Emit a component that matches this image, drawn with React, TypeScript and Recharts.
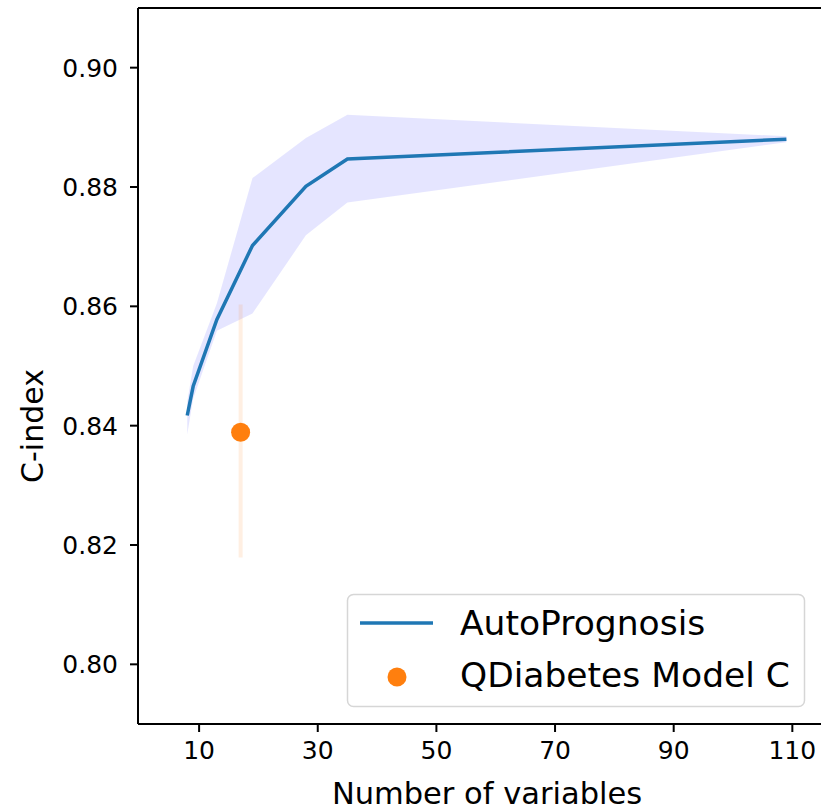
import React from 'react';
import {
  ComposedChart, Area, Line, Scatter, ErrorBar, XAxis, YAxis, ReferenceLine,
} from 'recharts';

// AutoPrognosis curve: number of variables vs C-index (mean with band)
const nVars = [8, 9, 13, 19, 28, 35, 109];
const meanC = [0.8417, 0.8466, 0.8578, 0.8702, 0.8801, 0.8847, 0.888];
const lowC = [0.8385, 0.8445, 0.8559, 0.8588, 0.8719, 0.8774, 0.8875];
const highC = [0.844, 0.85, 0.8605, 0.8815, 0.8882, 0.8921, 0.8885];

// QDiabetes reference point with its interval
const qdVars = [17];
const qdC = [0.8389];
const qdErr = [[0.021, 0.0214]];

const xTicks = [10, 30, 50, 70, 90, 110];
const yTicks = [0.8, 0.82, 0.84, 0.86, 0.88, 0.9];

const curve = nVars.map((x, i) => ({ x, mean: meanC[i], lo: lowC[i], hi: highC[i] }));
const qd = qdVars.map((x, i) => ({ x, y: qdC[i], err: qdErr[i] }));

const FONT = '"DejaVu Sans", sans-serif';
const BLUE = '#1f77b4';
const ORANGE = '#ff7f0e';

function LegendBox() {
  return (
    <svg width={460} height={116} style={{ position: 'absolute', left: 346, top: 593 }}>
      <rect x={1.5} y={1.5} width={457} height={112} rx={6} fill="#fff" fillOpacity={0.8} stroke="#d6d6d6" strokeWidth={1.5} />
      <line x1={14} x2={87} y1={30} y2={30} stroke={BLUE} strokeWidth={3.5} />
      <text x={114} y={42} fontSize={34.5} fontFamily={FONT} fill="#000">AutoPrognosis</text>
      <circle cx={51} cy={84} r={9.5} fill={ORANGE} />
      <text x={114} y={94} fontSize={34.5} fontFamily={FONT} fill="#000">QDiabetes Model C</text>
    </svg>
  );
}

export default function App() {
  return (
    <div style={{ position: 'fixed', left: 0, top: 0, width: 821, height: 810, overflow: 'hidden', background: '#fff' }}>
      <ComposedChart width={830} height={810} data={curve} margin={{ top: 8, right: 8, bottom: 0, left: 0 }}>
        <XAxis
          type="number"
          dataKey="x"
          domain={[-0.3, 115]}
          ticks={xTicks}
          allowDataOverflow
          height={86}
          stroke="#000"
          strokeWidth={2}
          tickSize={8}
          tickMargin={9}
          tick={{ fontSize: 25, fontFamily: FONT, fill: '#000' }}
          label={{
            content: () => (
              <text x={487} y={804} textAnchor="middle" fontSize={30.5} fontFamily={FONT} fill="#000">
                Number of variables
              </text>
            ),
          }}
        />
        <YAxis
          type="number"
          domain={[0.79, 0.91]}
          ticks={yTicks}
          allowDataOverflow
          width={138}
          stroke="#000"
          strokeWidth={2}
          tickSize={8}
          tickMargin={12}
          tickFormatter={(v: number) => v.toFixed(2)}
          tick={{ fontSize: 25, fontFamily: FONT, fill: '#000' }}
          label={{
            content: () => (
              <text
                x={43}
                y={426}
                transform="rotate(-90 43 426)"
                textAnchor="middle"
                fontSize={30}
                fontFamily={FONT}
                fill="#000"
              >
                C-index
              </text>
            ),
          }}
        />
        <ReferenceLine y={0.91} stroke="#000" strokeWidth={2} />
        <Area
          type="linear"
          dataKey={(d: any) => [d.lo, d.hi]}
          stroke="none"
          fill="blue"
          fillOpacity={0.1}
          isAnimationActive={false}
        />
        <Line
          type="linear"
          dataKey="mean"
          stroke={BLUE}
          strokeWidth={3.5}
          dot={false}
          activeDot={false}
          isAnimationActive={false}
        />
        <Scatter data={qd} dataKey="y" fill={ORANGE} shape={(p: any) => <circle cx={p.cx} cy={p.cy} r={9.5} fill={ORANGE} />} isAnimationActive={false}>
          <ErrorBar dataKey="err" direction="y" width={0} stroke={ORANGE} strokeOpacity={0.12} strokeWidth={4} />
        </Scatter>
      </ComposedChart>
      <LegendBox />
    </div>
  );
}
